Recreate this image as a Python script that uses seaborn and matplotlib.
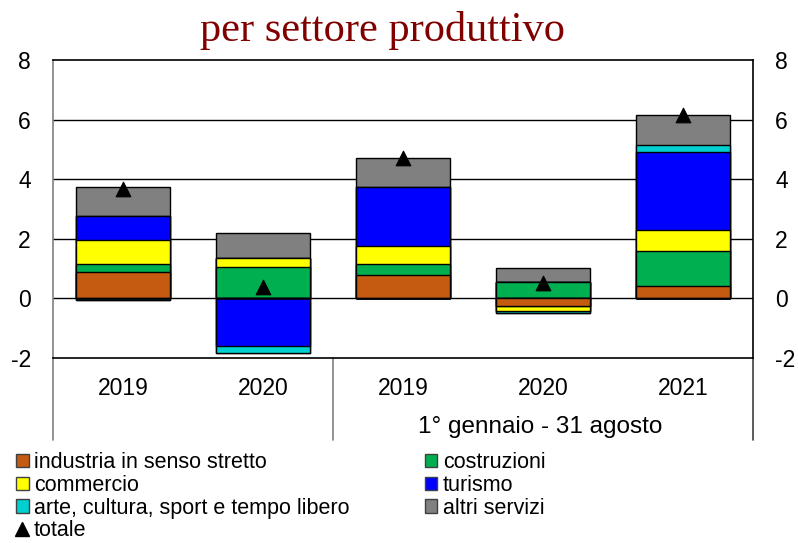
import matplotlib
matplotlib.use("Agg")
import matplotlib.pyplot as plt
from matplotlib.patches import Patch
from matplotlib.lines import Line2D
import seaborn as sns
import numpy as np
import pandas as pd

# dati (punti percentuali)
periodi = ["2019", "2020", "2019", "2020", "2021"]
chiavi = ["p0", "p1", "p2", "p3", "p4"]

industria = [0.90, 0.00, 0.78, -0.26, 0.42]
costruzioni = [0.25, 1.06, 0.38, 0.56, 1.18]
commercio = [0.82, 0.29, 0.59, -0.17, 0.68]
turismo = [0.78, -1.60, 1.99, 0.00, 2.64]
arte = [-0.05, -0.22, 0.00, -0.07, 0.22]
altri = [0.98, 0.85, 0.98, 0.47, 1.02]
totale = [3.68, 0.38, 4.72, 0.53, 6.16]

serie = ["industria in senso stretto", "costruzioni", "commercio", "turismo",
         "arte, cultura, sport e tempo libero", "altri servizi"]
valori = [industria, costruzioni, commercio, turismo, arte, altri]
colori = ["#C55A11", "#00B050", "#FFFF00", "#0000FF", "#00D0D0", "#808080"]

sns.set_style("white")
plt.rcParams["font.family"] = ["Liberation Sans", "DejaVu Sans"]
plt.rcParams["text.color"] = "black"
plt.rcParams["xtick.color"] = "black"
plt.rcParams["ytick.color"] = "black"

fig = plt.figure(figsize=(7.98, 5.43), dpi=100)
ax = fig.add_axes([53 / 798, 1 - 358 / 543, 700 / 798, 298 / 543])

# cumulate separate per valori positivi e negativi
vals = np.array(valori)
pos_cum = np.cumsum(np.clip(vals, 0, None), axis=0)
neg_cum = np.cumsum(np.clip(vals, None, 0), axis=0)

for k in range(len(serie) - 1, -1, -1):
    for cum in (pos_cum, neg_cum):
        df = pd.DataFrame({"periodo": chiavi, "v": cum[k]})
        sns.barplot(data=df, x="periodo", y="v", order=chiavi, color=colori[k],
                    saturation=1, width=0.67, edgecolor="black", linewidth=1,
                    ax=ax, zorder=3)

df_tot = pd.DataFrame({"periodo": chiavi, "totale": totale})
sns.scatterplot(data=df_tot, x="periodo", y="totale", marker="^", color="black",
                s=110, edgecolor="black", ax=ax, zorder=5, legend=False)

ax.set_xlim(-0.5, 4.5)
ax.set_ylim(-2, 8)
ax.set_yticks([-2, 0, 2, 4, 6, 8])
ax.set_yticklabels(["-2", "0", "2", "4", "6", "8"])
ax.set_xticks(range(5))
ax.set_xticklabels(periodi)
ax.set_xlabel("")
ax.set_ylabel("")
for y in [0, 2, 4, 6]:
    ax.axhline(y, color="black", lw=1, zorder=2)
ax.tick_params(axis="both", length=0, labelsize=16.5, labelcolor="black")
ax.tick_params(axis="y", pad=16, labelright=True)
ax.tick_params(axis="x", pad=14)

for s in ["top", "right", "bottom"]:
    ax.spines[s].set_color("black")
    ax.spines[s].set_linewidth(1.2)
ax.spines["left"].set_color("#808080")
ax.spines["left"].set_linewidth(1.2)

# linee di separazione sotto l'asse
trans = ax.get_xaxis_transform()
for x, c in [(-0.5, "#808080"), (1.5, "#808080"), (4.5, "#404040")]:
    ax.plot([x, x], [0, -82 / 298], transform=trans, color=c, lw=1.2, clip_on=False)

ax.text(2.98, -69 / 298, "1° gennaio - 31 agosto", transform=trans, ha="center",
        va="center", fontsize=17.5)

fig.text(383 / 798, 1 - 30 / 543, "per settore produttivo", ha="center", va="center",
         fontsize=30.5, color="#800000", family=["Liberation Serif", "DejaVu Serif"])

ordine = [0, 2, 4, 1, 3, 5]
handles = [Patch(facecolor=colori[i], edgecolor="#404040", label=serie[i]) for i in ordine[:3]]
handles.append(Line2D([], [], marker="^", color="black", linestyle="none",
                      markersize=10, label="totale"))
handles += [Patch(facecolor=colori[i], edgecolor="#404040", label=serie[i]) for i in ordine[3:]]
fig.legend(handles=handles, ncol=2, loc="upper left", bbox_to_anchor=(0.019, 1 - 451 / 543),
           frameon=False, fontsize=15.5, handlelength=0.58, handleheight=0.58,
           handletextpad=0.25, labelspacing=0.08, columnspacing=3.5, borderaxespad=0,
           borderpad=0.05)

fig.savefig("out.png", dpi=100)
